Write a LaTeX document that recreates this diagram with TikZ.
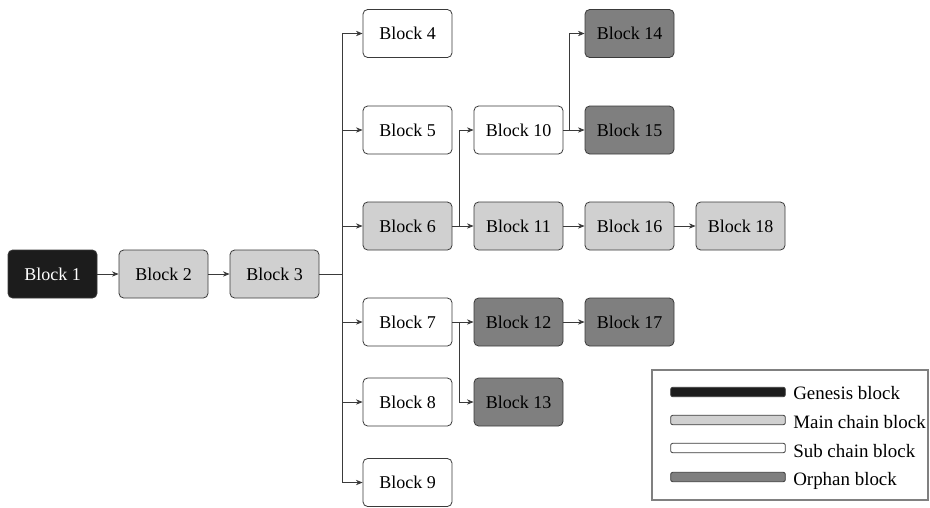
\documentclass[tikz,border=0pt]{standalone}
\usepackage{fontspec}
\setmainfont{Liberation Serif}
\usetikzlibrary{arrows.meta}
\definecolor{mainc}{HTML}{D0D0D0}
\definecolor{orph}{HTML}{7F7F7F}
\definecolor{gen}{HTML}{1C1C1C}
\definecolor{edge}{HTML}{3A3A3A}
\begin{document}
\begin{tikzpicture}[x=0.75pt,y=-0.75pt,
  blk/.style={draw=edge,line width=0.6pt,rounded corners=3.5pt,minimum width=66.75pt,minimum height=36pt,inner sep=0pt,font=\fontsize{13.5}{15}\selectfont},
  genb/.style={blk,fill=gen,text=white},
  mainb/.style={blk,fill=mainc},
  subb/.style={blk,fill=white},
  orphb/.style={blk,fill=orph},
  conn/.style={draw=edge,line width=0.6pt},
  arr/.style={conn,-{Stealth[length=5pt,width=4pt]}},
  bar/.style={draw=edge,line width=0.6pt,rounded corners=1.5pt,minimum width=86pt,minimum height=7pt,inner sep=0pt},
  legtxt/.style={anchor=west,inner sep=0pt,font=\fontsize{14.2}{16}\selectfont}]
\useasboundingbox (0,0) rectangle (930,507);
% main chain
\node[genb] (b1) at (52.5,274) {Block 1};
\node[mainb] (b2) at (163.5,274) {Block 2};
\node[mainb] (b3) at (274.5,274) {Block 3};
% column 2
\node[subb] (b4) at (407.5,33.5) {Block 4};
\node[subb] (b5) at (407.5,130) {Block 5};
\node[mainb] (b6) at (407.5,226) {Block 6};
\node[subb] (b7) at (407.5,322) {Block 7};
\node[subb] (b8) at (407.5,402) {Block 8};
\node[subb] (b9) at (407.5,482.5) {Block 9};
% column 3
\node[subb] (b10) at (518.5,130) {Block 10};
\node[mainb] (b11) at (518.5,226) {Block 11};
\node[orphb] (b12) at (518.5,322) {Block 12};
\node[orphb] (b13) at (518.5,402) {Block 13};
% column 4
\node[orphb] (b14) at (629.5,33.5) {Block 14};
\node[orphb] (b15) at (629.5,130) {Block 15};
\node[mainb] (b16) at (629.5,226) {Block 16};
\node[orphb] (b17) at (629.5,322) {Block 17};
% column 5
\node[mainb] (b18) at (740.5,226) {Block 18};
% junctions
\coordinate (bus) at (342,274);
\coordinate (s6) at (459,226);
\coordinate (s7) at (459,322);
\coordinate (s10) at (569,130);
% connectors
\draw[arr] (b1) -- (b2);
\draw[arr] (b2) -- (b3);
\draw[conn] (b3.east) -- (bus);
\foreach \t in {b4,b5,b6,b7,b8,b9}{\draw[arr] (bus) |- (\t.west);}
\draw[arr] (b6) -- (b11);
\draw[arr] (s6) |- (b10.west);
\draw[arr] (b7) -- (b12);
\draw[arr] (s7) |- (b13.west);
\draw[arr] (b10) -- (b15);
\draw[arr] (s10) |- (b14.west);
\draw[arr] (b11) -- (b16);
\draw[arr] (b16) -- (b18);
\draw[arr] (b12) -- (b17);
% legend
\node[draw=gray,line width=0.8pt,minimum width=207pt,minimum height=97.5pt,inner sep=0pt] (leg) at (790,435) {};
\node[bar,fill=gen] (l1) at (728,392) {};
\node[bar,fill=mainc] (l2) at (728,420) {};
\node[bar,fill=white] (l3) at (728,448) {};
\node[bar,fill=orph] (l4) at (728,477) {};
\node[legtxt] (t1) at (793,393) {Genesis block};
\node[legtxt] (t2) at (793,422) {Main chain block};
\node[legtxt] (t3) at (793,451) {Sub chain block};
\node[legtxt] (t4) at (793,481) {Orphan block};
\end{tikzpicture}
\end{document}
